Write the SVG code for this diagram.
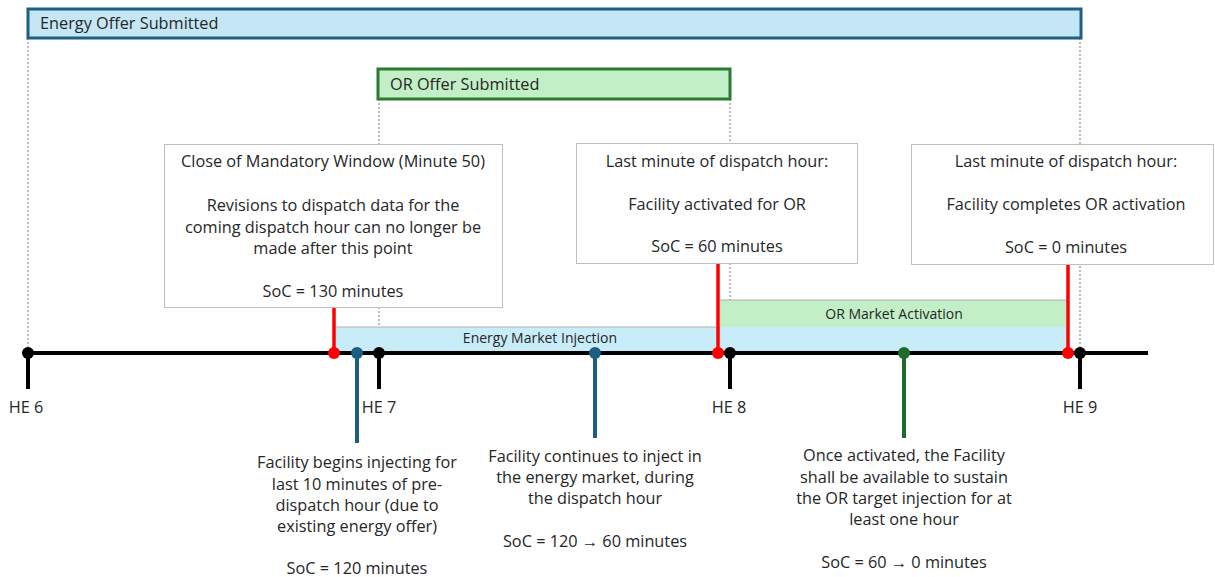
<svg xmlns="http://www.w3.org/2000/svg" width="1215" height="577" viewBox="0 0 1215 577">
<style>
text{font-family:"Open Sans","Liberation Sans",sans-serif;font-size:16.3px;fill:#262626}
.c{text-anchor:middle}
.band{font-size:14px}
.guide{stroke:#bdbdbd;stroke-width:2;stroke-dasharray:2 2;fill:none}
.box{fill:#fff;stroke:#bfbfbf;stroke-width:1}
.tick{stroke:#000;stroke-width:4}
.red{stroke:#ff0000;stroke-width:3.5}
.blue{stroke:#1a5e80;stroke-width:4}
.green{stroke:#1e6b2a;stroke-width:4}
</style>
<rect width="1215" height="577" fill="#fff"/>
<g id="guides">
<line class="guide" x1="28" y1="38" x2="28" y2="352"/>
<line class="guide" x1="379" y1="99" x2="379" y2="352"/>
<line class="guide" x1="730" y1="99" x2="730" y2="352"/>
<line class="guide" x1="1080" y1="38" x2="1080" y2="352"/>
</g>
<g id="energy-offer">
<rect x="28" y="9" width="1053" height="29" fill="#c5e6f5" stroke="#1f5f82" stroke-width="3"/>
<text x="40" y="29">Energy Offer Submitted</text>
</g>
<g id="or-offer">
<rect x="378" y="69" width="352" height="30" fill="#c3efc6" stroke="#2b7a33" stroke-width="3"/>
<text x="390" y="89.5">OR Offer Submitted</text>
</g>
<g id="energy-injection">
<rect x="334" y="327" width="734" height="26" fill="#c9ecf9"/>
<line x1="334" y1="327" x2="720" y2="327" stroke="#b0b0b0" stroke-width="1"/>
<text class="c band" x="540" y="343">Energy Market Injection</text>
</g>
<g id="or-activation">
<rect x="720" y="300" width="347" height="27" fill="#c3efc6"/>
<line x1="720" y1="300" x2="1067" y2="300" stroke="#b0b0b0" stroke-width="1"/>
<text class="c band" x="894" y="319">OR Market Activation</text>
</g>
<g id="box-mandatory">
<rect class="box" x="164.5" y="144.5" width="338" height="163"/>
<text class="c" x="333" y="167">Close of Mandatory Window (Minute 50)</text>
<text class="c" x="333" y="211">Revisions to dispatch data for the</text>
<text class="c" x="333" y="233">coming dispatch hour can no longer be</text>
<text class="c" x="333" y="254">made after this point</text>
<text class="c" x="333" y="297">SoC = 130 minutes</text>
</g>
<g id="box-activated">
<rect class="box" x="576.5" y="143.5" width="281" height="120"/>
<text class="c" x="717" y="167">Last minute of dispatch hour:</text>
<text class="c" x="717" y="210">Facility activated for OR</text>
<text class="c" x="717" y="252">SoC = 60 minutes</text>
</g>
<g id="box-completes">
<rect class="box" x="911.5" y="144.5" width="302" height="120"/>
<text class="c" x="1066" y="167">Last minute of dispatch hour:</text>
<text class="c" x="1066" y="210">Facility completes OR activation</text>
<text class="c" x="1066" y="253">SoC = 0 minutes</text>
</g>
<g id="connectors">
<line x1="28" y1="353" x2="1148" y2="353" stroke="#000" stroke-width="4"/>
<line class="tick" x1="28" y1="353" x2="28" y2="389"/>
<line class="tick" x1="379" y1="353" x2="379" y2="389"/>
<line class="tick" x1="730" y1="353" x2="730" y2="389"/>
<line class="tick" x1="1080" y1="353" x2="1080" y2="389"/>
<line class="red" x1="334" y1="308" x2="334" y2="353"/>
<line class="red" x1="718" y1="264" x2="718" y2="353"/>
<line class="red" x1="1068" y1="265" x2="1068" y2="353"/>
<line class="blue" x1="357" y1="353" x2="357" y2="443"/>
<line class="blue" x1="595" y1="353" x2="595" y2="438"/>
<line class="green" x1="904" y1="353" x2="904" y2="438"/>
<circle cx="28" cy="353" r="6" fill="#000"/>
<circle cx="379" cy="353" r="6" fill="#000"/>
<circle cx="730" cy="353" r="6" fill="#000"/>
<circle cx="1080" cy="353" r="6" fill="#000"/>
<circle cx="334" cy="353" r="6" fill="#ff0000"/>
<circle cx="718" cy="353" r="6" fill="#ff0000"/>
<circle cx="1068" cy="353" r="6" fill="#ff0000"/>
<circle cx="357" cy="353" r="6" fill="#1a5e80"/>
<circle cx="595" cy="353" r="6" fill="#1a5e80"/>
<circle cx="904" cy="353" r="6" fill="#1e6b2a"/>
</g>
<g id="he-labels">
<text class="c" x="26" y="413">HE 6</text>
<text class="c" x="379" y="413">HE 7</text>
<text class="c" x="729" y="413">HE 8</text>
<text class="c" x="1080" y="413">HE 9</text>
</g>
<g id="note-begins">
<text class="c" x="357" y="468">Facility begins injecting for</text>
<text class="c" x="357" y="490">last 10 minutes of pre-</text>
<text class="c" x="357" y="511">dispatch hour (due to</text>
<text class="c" x="357" y="532">existing energy offer)</text>
<text class="c" x="357" y="574">SoC = 120 minutes</text>
</g>
<g id="note-continues">
<text class="c" x="595" y="462">Facility continues to inject in</text>
<text class="c" x="595" y="483">the energy market, during</text>
<text class="c" x="595" y="504">the dispatch hour</text>
<text class="c" x="595" y="547">SoC = 120 → 60 minutes</text>
</g>
<g id="note-activated">
<text class="c" x="904" y="461">Once activated, the Facility</text>
<text class="c" x="904" y="483">shall be available to sustain</text>
<text class="c" x="904" y="504">the OR target injection for at</text>
<text class="c" x="904" y="525">least one hour</text>
<text class="c" x="904" y="568">SoC = 60 → 0 minutes</text>
</g>
</svg>
